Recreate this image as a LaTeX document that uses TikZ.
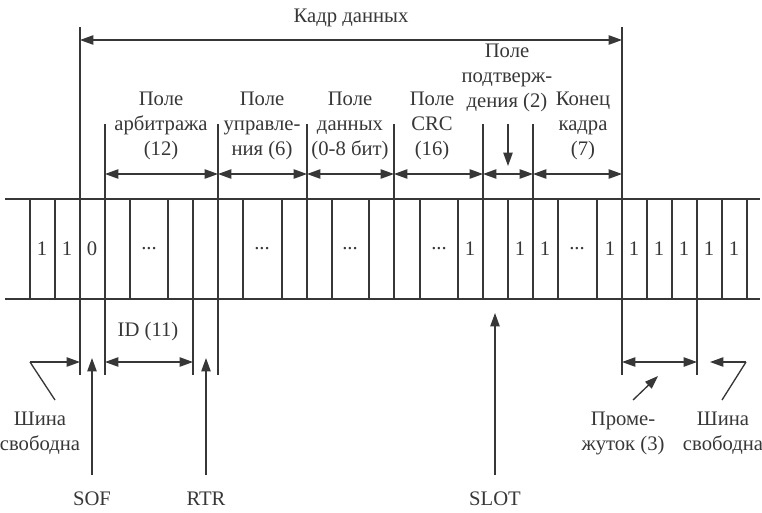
\documentclass[tikz,border=0pt]{standalone}
\usepackage{fontspec}
\setmainfont{Liberation Serif}
\usetikzlibrary{arrows.meta}
\definecolor{ink}{RGB}{55,55,55}
\begin{document}
\begin{tikzpicture}[x=0.75pt,y=-0.75pt, line width=1pt,
  every node/.style={text=ink, font=\fontsize{15.5}{18.75}\selectfont, inner sep=0pt, align=center},
  tip/.tip={Triangle[length=10pt,width=7pt]},
  dim/.style={draw=ink, tip-tip},
  pointer/.style={draw=ink, -tip},
  rule/.style={draw=ink}]
\useasboundingbox (0,0) rectangle (762,512);
% bus lines
\draw[rule] (5,199) -- (760,199);
\draw[rule] (5,299) -- (760,299);
\foreach \x in {30,55,80,105,130,168,193,218,243,282,307,332,369,394,420,458,483,508,533,558,597,622,647,672,697,722,747}
  \draw[rule] (\x,199) -- (\x,299);
% extensions
\draw[rule] (80,27) -- (80,375);
\draw[rule] (622,27) -- (622,375);
\draw[rule] (105,124) -- (105,375);
\draw[rule] (218,124) -- (218,375);
\foreach \x in {307,394,483,533} \draw[rule] (\x,124) -- (\x,199);
\draw[rule] (193,299) -- (193,375);
\draw[rule] (697,299) -- (697,375);
% bits
\foreach \x/\t in {42/1,67/1,92/0,149/{...},262/{...},350/{...},439/{...},470/1,520/1,545/1,577/{...},610/1,634/1,659/1,684/1,709/1,734/1}
  \node (b\x) at (\x,249) {\t};
% top
\coordinate (fl) at (80,40); \coordinate (fr) at (622,40);
\draw[dim] (fl) -- (fr);
\node (frame) at (351,18) {Кадр данных};
% field arrows
\foreach \a/\b in {105/218,218/307,307/394,394/483,483/533,533/622}
  \draw[dim] (\a,174) -- (\b,174);
\node (arb) at (161,126) {Поле\\арбитража\\(12)};
\node (ctl) at (262,126) {Поле\\управле-\\ния (6)};
\node (dat) at (350,126) {Поле\\данных\\(0-8 бит)};
\node (crc) at (432,126) {Поле\\CRC\\(16)};
\node (ack) at (507,78) {Поле\\подтверж-\\дения (2)};
\node (eof) at (583,126) {Конец\\кадра\\(7)};
\coordinate (ackt) at (508,124); \coordinate (ackb) at (508,166);
\draw[pointer] (ackt) -- (ackb);
% bottom left
\coordinate (bf1) at (30,362); \coordinate (bf1d) at (55,400);
\draw[pointer] (bf1) -- (80,362);
\draw[rule] (bf1) -- (bf1d);
\node (busfree1) at (40,433) {Шина\\свободна};
\draw[pointer] (92,475) -- (92,358);
\node (sof) at (92,499) {SOF};
\draw[dim] (105,362) -- (193,362);
\node (id) at (148,332) {ID (11)};
\draw[pointer] (206,475) -- (206,358);
\node (rtr) at (206,499) {RTR};
\draw[pointer] (495,475) -- (495,313);
\node (slot) at (495,499) {SLOT};
% bottom right
\draw[dim] (622,362) -- (697,362);
\draw[pointer] (633,400) -- (658,376);
\node (gap) at (623,433) {Проме-\\жуток (3)};
\coordinate (bf2) at (746,362); \coordinate (bf2d) at (722,400);
\draw[pointer] (bf2) -- (710,362);
\draw[rule] (bf2) -- (bf2d);
\node (busfree2) at (723,433) {Шина\\свободна};
\end{tikzpicture}
\end{document}
